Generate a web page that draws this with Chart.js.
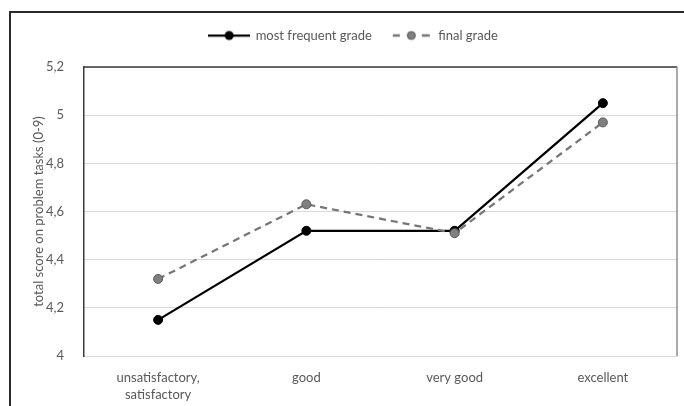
<!DOCTYPE html>
<html>
<head>
<meta charset="utf-8">
<script src="https://cdn.jsdelivr.net/npm/chart.js@4/dist/chart.umd.min.js"></script>
<style>
  html, body { margin: 0; padding: 0; background: #fff; }
  #wrap { position: relative; width: 684px; height: 406px; }
  #frame { position: absolute; left: 9px; top: 11px; right: 0; bottom: 0; border-left: 2px solid #2b2b2b; border-top: 2px solid #2b2b2b; pointer-events: none; }
  canvas { position: absolute; left: 0; top: 0; }
</style>
</head>
<body>
<div id="wrap">
  <canvas id="c" width="684" height="406"></canvas>
  <div id="frame"></div>
</div>
<script>
const categories = [["unsatisfactory,", "satisfactory"], "good", "very good", "excellent"];
const mostFrequentGrade = [4.15, 4.52, 4.52, 5.05];
const finalGrade = [4.32, 4.63, 4.51, 4.97];
const seriesNames = ["most frequent grade", "final grade"];
const yTicks = [4, 4.2, 4.4, 4.6, 4.8, 5, 5.2];
const yTitle = "total score on problem tasks (0-9)";

const FONT = "Lato, 'Open Sans', sans-serif";
const TEXT = "#595959";

function makeIcon(dashed) {
  const c = document.createElement('canvas');
  c.width = 42; c.height = 12;
  const g = c.getContext('2d');
  if (dashed) {
    g.strokeStyle = '#767676'; g.lineWidth = 2.5;
    g.beginPath(); g.moveTo(2, 6); g.lineTo(9, 6); g.moveTo(31, 6); g.lineTo(39, 6); g.stroke();
    g.beginPath(); g.arc(20.5, 6, 4, 0, Math.PI * 2);
    g.fillStyle = '#808080'; g.fill(); g.lineWidth = 1; g.strokeStyle = '#595959'; g.stroke();
  } else {
    g.strokeStyle = '#000'; g.lineWidth = 2.25;
    g.beginPath(); g.moveTo(0, 6); g.lineTo(42, 6); g.stroke();
    g.beginPath(); g.arc(21, 6, 4.5, 0, Math.PI * 2); g.fillStyle = '#000'; g.fill();
  }
  return c;
}
const icons = [makeIcon(false), makeIcon(true)];

const frameLines = {
  id: 'frameLines',
  beforeLayout(chart) {
    const lg = chart.legend;
    if (lg && !lg._patched) {
      const orig = lg.fit;
      lg.fit = function () { orig.call(this); this.height += 15; };
      lg._patched = true;
    }
  },
  beforeDatasetsDraw(chart) {
    const {ctx, chartArea: a} = chart;
    ctx.save();
    ctx.lineWidth = 1.5;
    ctx.strokeStyle = '#3a3a3a';
    ctx.beginPath(); ctx.moveTo(a.left, a.top); ctx.lineTo(a.right, a.top); ctx.stroke();
    ctx.strokeStyle = '#8c8c8c';
    ctx.beginPath(); ctx.moveTo(a.right, a.top); ctx.lineTo(a.right, a.bottom); ctx.stroke();
    ctx.restore();
  }
};

new Chart(document.getElementById('c'), {
  type: 'line',
  data: {
    labels: categories,
    datasets: [
      {
        label: seriesNames[0], data: mostFrequentGrade, order: 1,
        borderColor: '#000', backgroundColor: '#000', borderWidth: 2.25,
        pointRadius: 4.5, pointBackgroundColor: '#000', pointBorderColor: '#000', pointBorderWidth: 1
      },
      {
        label: seriesNames[1], data: finalGrade, order: 0,
        borderColor: '#767676', backgroundColor: '#808080', borderWidth: 2.25, borderDash: [7, 5],
        pointRadius: 4.5, pointBackgroundColor: '#808080', pointBorderColor: '#595959', pointBorderWidth: 1
      }
    ]
  },
  options: {
    responsive: false,
    animation: false,
    layout: { padding: { left: 30, right: 7, top: 9, bottom: 0 } },
    plugins: {
      tooltip: { enabled: false },
      legend: {
        position: 'top',
        labels: {
          usePointStyle: true,
          pointStyleWidth: 40,
          padding: 20,
          color: TEXT,
          font: { family: FONT, size: 13 },
          sort: (a, b) => a.datasetIndex - b.datasetIndex,
          generateLabels(chart) {
            const items = Chart.defaults.plugins.legend.labels.generateLabels(chart);
            items.forEach(it => { it.pointStyle = icons[it.datasetIndex]; });
            return items;
          }
        }
      }
    },
    scales: {
      x: {
        offset: true,
        afterFit(s) { s.height = 50; },
        grid: { display: false, drawTicks: false },
        border: { display: true, color: '#d9d9d9', width: 1 },
        ticks: { color: TEXT, font: { family: FONT, size: 13, lineHeight: 1.25 }, padding: 14, maxRotation: 0, autoSkip: false }
      },
      y: {
        min: 4, max: 5.2,
        afterFit(s) { s.width = 54; },
        afterBuildTicks(s) { s.ticks = yTicks.map(v => ({ value: v })); },
        grid: { color: '#d9d9d9', lineWidth: 1, drawTicks: false },
        border: { display: true, color: '#3a3a3a', width: 1.5 },
        ticks: {
          color: TEXT, font: { family: FONT, size: 13 }, padding: 20,
          callback: v => String(Math.round(v * 10) / 10).replace('.', ',')
        },
        title: {
          display: true, text: yTitle, color: TEXT,
          font: { family: FONT, size: 13 }, padding: { top: 1, bottom: 0 }
        }
      }
    }
  },
  plugins: [frameLines]
});
</script>
</body>
</html>
